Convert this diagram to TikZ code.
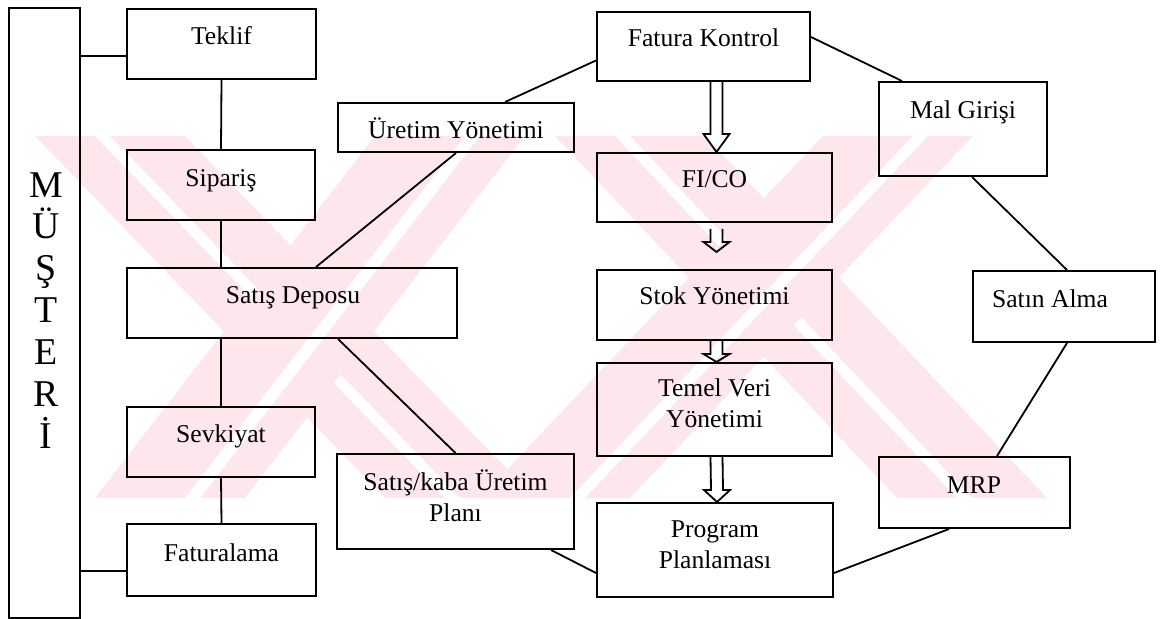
\documentclass[tikz,border=0pt]{standalone}
\usepackage{fontspec}
\setmainfont{Liberation Serif}
\usetikzlibrary{calc,fit}
\definecolor{wm}{RGB}{253,231,236}
\tikzset{
  box/.style={draw=black, line width=1pt, inner sep=0pt},
  lbl/.style={font=\fontsize{12.8}{15.5}\selectfont, inner sep=0pt, anchor=base, align=center},
  conn/.style={draw=black, line width=0.9pt},
  harrow/.style={draw=black, line width=0.9pt, line join=miter},
}
\newcommand{\hollowarr}[3]{%
  \draw[harrow] ($(#1)+(-6,0)$) -- ($(#2)+(-6,-#3)$) -- ($(#2)+(-13,-#3)$) -- (#2)
     -- ($(#2)+(13,-#3)$) -- ($(#2)+(6,-#3)$) -- ($(#1)+(6,0)$);}
\begin{document}
\begin{tikzpicture}[x=0.5pt,y=-0.5pt]
\useasboundingbox (0,0) rectangle (1160,619);
% watermark
\begin{scope}
\clip (0,136) rectangle (1160,498);
\fill[wm] (35,136) -- (185,136) -- (535,498) -- (385,498) -- cycle;
\fill[white] (95,136) -- (110,136) -- (460,498) -- (445,498) -- cycle;
\fill[wm] (375,136) -- (525,136) -- (245,498) -- (95,498) -- cycle;
\fill[white] (465,136) -- (480,136) -- (200,498) -- (185,498) -- cycle;
\fill[wm] (555,136) -- (705,136) -- (1047,498) -- (897,498) -- cycle;
\fill[white] (615,136) -- (630,136) -- (972,498) -- (957,498) -- cycle;
\fill[wm] (823,136) -- (973,136) -- (630,498) -- (480,498) -- cycle;
\fill[white] (913,136) -- (928,136) -- (585,498) -- (570,498) -- cycle;
\end{scope}
% boxes
\node[box, fit={(9,8) (80,618)}] (mus) {};
\node[box, fit={(127,9) (316,79)}] (teklif) {};
\node[box, fit={(127,150) (315,220)}] (sipar) {};
\node[box, fit={(127,268) (457,338)}] (satis) {};
\node[box, fit={(127,407) (315,477)}] (sevk) {};
\node[box, fit={(127,524) (316,596)}] (fatura) {};
\node[box, fit={(338,103) (574,152)}] (uretim) {};
\node[box, fit={(337,454) (574,549)}] (kaba) {};
\node[box, fit={(597,12) (810,81)}] (fk) {};
\node[box, fit={(597,153) (832,222)}] (fico) {};
\node[box, fit={(597,270) (832,340)}] (stok) {};
\node[box, fit={(597,363) (832,456)}] (temel) {};
\node[box, fit={(597,503) (833,597)}] (prog) {};
\node[box, fit={(879,82) (1047,176)}] (mal) {};
\node[box, fit={(973,271) (1155,342)}] (satin) {};
\node[box, fit={(879,457) (1070,528)}] (mrp) {};
% labels (multi-line nodes: base = last line's baseline)
\node[lbl, font=\fontsize{18.9}{20.9}\selectfont] (musT) at (46,448) {M\\Ü\\Ş\\T\\E\\R\\İ};
\node[lbl] (teklifT) at (221.5,45) {Teklif};
\node[lbl] (siparT) at (221,187) {Sipariş};
\node[lbl] (satisT) at (293,304) {Satış Deposu};
\node[lbl] (sevkT) at (221,443) {Sevkiyat};
\node[lbl] (faturaT) at (221.5,561) {Faturalama};
\node[lbl] (uretimT) at (456,139) {Üretim Yönetimi};
\node[lbl] (kabaT) at (455.5,521) {Satış/kaba Üretim\\Planı};
\node[lbl] (fkT) at (703.5,47) {Fatura Kontrol};
\node[lbl] (ficoT) at (714.5,188) {FI/CO};
\node[lbl] (stokT) at (714.5,305) {Stok Yönetimi};
\node[lbl] (temelT) at (714.5,428) {Temel Veri\\Yönetimi};
\node[lbl] (progT) at (715,568) {Program\\Planlaması};
\node[lbl] (malT) at (963,119) {Mal Girişi};
\node[lbl] (satinT) at (1050,308) {Satın Alma};
\node[lbl] (mrpT) at (974,493) {MRP};
% connectors
\draw[conn] ([yshift=-6pt]teklif.west) -- ([yshift=-6pt]teklif.west -| mus.east);
\draw[conn] ([yshift=-5.5pt]fatura.west) -- ([yshift=-5.5pt]fatura.west -| mus.east);
\draw[conn] (teklif.south) -- (sipar.north);
\draw[conn] (sipar.south) -- (sipar.south |- satis.north);
\draw[conn] (sevk.north |- satis.south) -- (sevk.north);
\draw[conn] (sevk.south) -- (fatura.north);
\draw[conn] (uretim.south) -- ($(satis.north west)+(190,0)$);
\draw[conn] ($(uretim.north)+(49,0)$) -- ($(fk.west)+(0,14)$);
\draw[conn] ($(satis.south west)+(212,0)$) -- (kaba.north);
\draw[conn] ($(kaba.south east)+(-24,0)$) -- ($(prog.west)+(0,23)$);
\draw[conn] ($(fk.east)+(0,-9.5)$) -- ($(mal.north west)+(24,0)$);
\draw[conn] ($(mal.south west)+(94,0)$) -- ($(satin.north west)+(95,0)$);
\draw[conn] ($(satin.south west)+(95,0)$) -- ($(mrp.north west)+(119,0)$);
\draw[conn] ($(mrp.south west)+(71,0)$) -- ($(prog.east)+(0,23)$);
% hollow arrows
\coordinate (a1s) at ($(fk.south -| fico.north)+(2,0)$);
\coordinate (a1e) at ($(fico.north)+(2,0)$);
\coordinate (a2s) at ($(fico.south)+(2,6)$);
\coordinate (a2e) at ($(stok.north)+(2,-17)$);
\coordinate (a3s) at ($(stok.south)+(2,0)$);
\coordinate (a3e) at ($(temel.north)+(2,0)$);
\coordinate (a4s) at ($(temel.south)+(2,0)$);
\coordinate (a4e) at ($(prog.north)+(2,0)$);
\hollowarr{a1s}{a1e}{18}
\hollowarr{a2s}{a2e}{10}
\hollowarr{a3s}{a3e}{8}
\hollowarr{a4s}{a4e}{12}
\end{tikzpicture}
\end{document}
